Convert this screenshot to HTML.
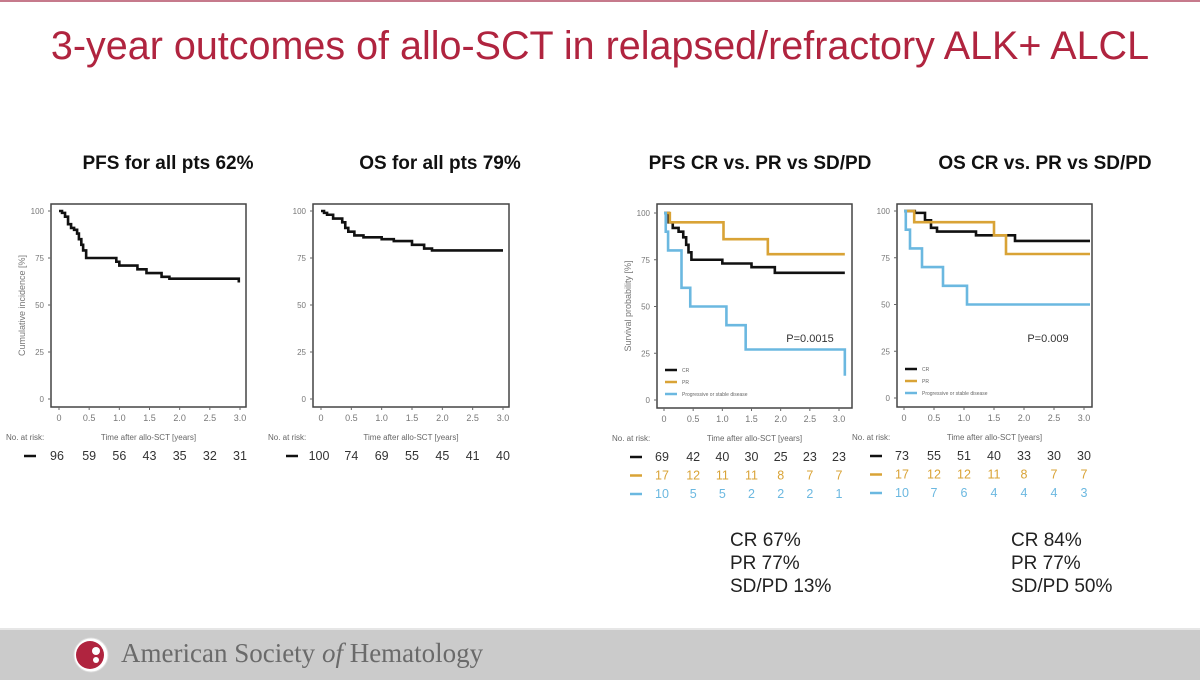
<!DOCTYPE html>
<html><head><meta charset="utf-8">
<style>
body{margin:0;width:1200px;height:680px;background:#fff;overflow:hidden;font-family:"Liberation Sans",sans-serif;position:relative}
.title{position:absolute;left:0;width:1200px;top:24px;text-align:center;font-size:39.5px;color:#b0243f}
.ct{position:absolute;top:153px;font-weight:bold;font-size:19px;color:#111;text-align:center}
.res{position:absolute;font-size:19px;color:#222;line-height:23px}
#footer{position:absolute;left:0;top:628px;width:1200px;height:50px;background:#cbcbcb;border-top:2px solid #e6e6e6}
</style></head><body>
<div style="position:absolute;left:0;top:0;width:1200px;height:2px;background:#c67a8c"></div>
<div class="title">3-year outcomes of allo-SCT in relapsed/refractory ALK+ ALCL</div>
<div class="ct" style="left:48px;width:240px">PFS for all pts 62%</div>
<div class="ct" style="left:320px;width:240px">OS for all pts 79%</div>
<div class="ct" style="left:635px;width:250px">PFS CR vs. PR vs SD/PD</div>
<div class="ct" style="left:920px;width:250px">OS CR vs. PR vs SD/PD</div>
<svg id="svg" width="1200" height="680" style="position:absolute;left:0;top:0"></svg>
<div class="res" style="left:730px;top:529px">CR 67%<br>PR 77%<br>SD/PD 13%</div>
<div class="res" style="left:1011px;top:529px">CR 84%<br>PR 77%<br>SD/PD 50%</div>
<div id="footer">
<svg width="50" height="50" style="position:absolute;left:66px;top:0"><circle cx="25" cy="25" r="17" fill="#fff" stroke="#ddd"/><circle cx="24" cy="25" r="14" fill="#b0243f"/><circle cx="30" cy="21" r="4" fill="#fff"/><circle cx="30" cy="30" r="3" fill="#fff"/></svg>
<div style="position:absolute;left:121px;top:8px;font-family:'Liberation Serif',serif;font-size:27px;color:#6a6a6a">American Society <i>of</i> Hematology</div>
</div>
<script>
const xTicks=["0","0.5","1.0","1.5","2.0","2.5","3.0"];
const yTicks=[0,25,50,75,100];
const pfsAllT=[0,0.05,0.1,0.15,0.2,0.25,0.3,0.33,0.37,0.4,0.45,0.95,1.0,1.3,1.45,1.7,1.83,2.98];
const pfsAllS=[100,99,97,93,91,90,88,85,82,79,75,73,71,69,67,65,64,62];
const osAllT=[0,0.05,0.1,0.2,0.35,0.4,0.45,0.55,0.7,1.0,1.2,1.5,1.7,1.83,3.0];
const osAllS=[100,99,98,96,94,91,89,87,86,85,84,82,80,79,79];
const pfsCrT=[0,0.08,0.15,0.25,0.33,0.38,0.42,0.47,1.0,1.5,1.9,3.1];
const pfsCrS=[100,95,92,90,87,83,79,75,73,71,68,68];
const pfsPrT=[0,0.1,1.02,1.78,3.1];
const pfsPrS=[100,95,86,78,78];
const pfsSdT=[0,0.03,0.07,0.3,0.45,1.07,1.4,3.1];
const pfsSdS=[100,90,80,60,50,40,27,13];
const osCrT=[0,0.18,0.35,0.45,0.55,1.2,1.85,3.1];
const osCrS=[100,99,95,91,89,87,84,84];
const osPrT=[0,0.17,1.5,1.7,3.1];
const osPrS=[100,94,87,77,77];
const osSdT=[0,0.03,0.1,0.3,0.65,1.05,3.1];
const osSdS=[100,90,80,70,60,50,50];
const riskPfsAll=[96,59,56,43,35,32,31];
const riskOsAll=[100,74,69,55,45,41,40];
const riskPfsCr=[69,42,40,30,25,23,23],riskPfsPr=[17,12,11,11,8,7,7],riskPfsSd=[10,5,5,2,2,2,1];
const riskOsCr=[73,55,51,40,33,30,30],riskOsPr=[17,12,12,11,8,7,7],riskOsSd=[10,7,6,4,4,4,3];
const K="#111",Y="#d9a336",B="#6bb8e0";
const svg=document.getElementById('svg');const NS="http://www.w3.org/2000/svg";
function el(t,a,p){const e=document.createElementNS(NS,t);for(const k in a)e.setAttribute(k,a[k]);(p||svg).appendChild(e);return e;}
function txt(x,y,s,sz,col,anc,name){const e=el('text',{x:x,y:y,'font-size':sz,fill:col,'text-anchor':anc||'middle','font-family':'Liberation Sans, sans-serif'});e.textContent=s;

return e;}
function chart(c){
 const X=v=>c.x0+(c.x3-c.x0)*v/3, Yf=v=>c.y0+(c.y100-c.y0)*v/100;
 const g=el('g',{});
 
 
 const r=el('rect',{x:c.bx,y:c.by,width:c.bw,height:c.bh,fill:'none',stroke:'#444','stroke-width':1.5},g);
 
 
 yTicks.forEach(v=>{el('line',{x1:c.bx-3,x2:c.bx,y1:Yf(v),y2:Yf(v),stroke:'#666'},g);txt(c.bx-7,Yf(v)+3,String(v),8,'#777','end','y-tick-label');});
 xTicks.forEach((s,i)=>{const xx=X(i*0.5);el('line',{x1:xx,x2:xx,y1:c.by+c.bh,y2:c.by+c.bh+3,stroke:'#666'},g);txt(xx,c.by+c.bh+14,s,9,'#777','middle','x-tick-label');});
 txt((c.bx+c.bx+c.bw)/2,c.by+c.bh+33,'Time after allo-SCT [years]',8,'#666','middle','x-axis-title');
 txt(c.bx-45,c.by+c.bh+33,'No. at risk:',8,'#666','start','no-at-risk-label');
 const yl=txt(0,0,c.ylab,9,'#777','middle','y-axis-title');yl.setAttribute('transform',`translate(${c.bx-26},${(c.by+c.by+c.bh)/2}) rotate(-90)`);
 c.series.forEach((s,si)=>{
  let d=`M${X(s.t[0])},${Yf(s.s[0])}`;
  for(let i=1;i<s.t.length;i++){d+=`H${X(s.t[i])}V${Yf(s.s[i])}`;}
  const p=el('path',{d:d,fill:'none',stroke:s.col,'stroke-width':2.6},g);
  
  
  const ry=c.by+c.bh+53+si*18.5;
  el('line',{x1:c.bx-27,x2:c.bx-15,y1:ry-4,y2:ry-4,stroke:s.col,'stroke-width':2.5},g);
  s.risk.forEach((v,i)=>txt(X(i*0.5)+(i==0?-2:0),ry,String(v),12.5,s.col==K?'#333':s.col,'middle','at-risk-'+s.n));
 });
 if(c.legend){c.series.forEach((s,i)=>{const ly=c.by+c.bh-38+i*12;el('line',{x1:c.bx+8,x2:c.bx+20,y1:ly,y2:ly,stroke:s.col,'stroke-width':2.5},g);txt(c.bx+25,ly+2,s.lab,5,'#666','start','legend-entry');});
  txt(c.px,c.py,c.p,11,'#333','middle','p-value');}
}
chart({name:'pfs-all-chart',bx:51,by:204,bw:195,bh:203,x0:59,x3:240,y0:399,y100:211,ylab:'Cumulative incidence [%]',series:[{n:'all',t:pfsAllT,s:pfsAllS,col:K,risk:riskPfsAll}]});
chart({name:'os-all-chart',bx:313,by:204,bw:196,bh:203,x0:321,x3:503,y0:399,y100:211,ylab:'',series:[{n:'all',t:osAllT,s:osAllS,col:K,risk:riskOsAll}]});
chart({name:'pfs-group-chart',bx:657,by:204,bw:195,bh:204,x0:664,x3:839,y0:400,y100:213,ylab:'Survival probability [%]',legend:1,p:'P=0.0015',px:810,py:342,
 series:[{n:'cr',lab:'CR',t:pfsCrT,s:pfsCrS,col:K,risk:riskPfsCr},{n:'pr',lab:'PR',t:pfsPrT,s:pfsPrS,col:Y,risk:riskPfsPr},{n:'sdpd',lab:'Progressive or stable disease',t:pfsSdT,s:pfsSdS,col:B,risk:riskPfsSd}]});
chart({name:'os-group-chart',bx:897,by:204,bw:195,bh:203,x0:904,x3:1084,y0:398,y100:211,ylab:'',legend:1,p:'P=0.009',px:1048,py:342,
 series:[{n:'cr',lab:'CR',t:osCrT,s:osCrS,col:K,risk:riskOsCr},{n:'pr',lab:'PR',t:osPrT,s:osPrS,col:Y,risk:riskOsPr},{n:'sdpd',lab:'Progressive or stable disease',t:osSdT,s:osSdS,col:B,risk:riskOsSd}]});
</script>
</body></html>
